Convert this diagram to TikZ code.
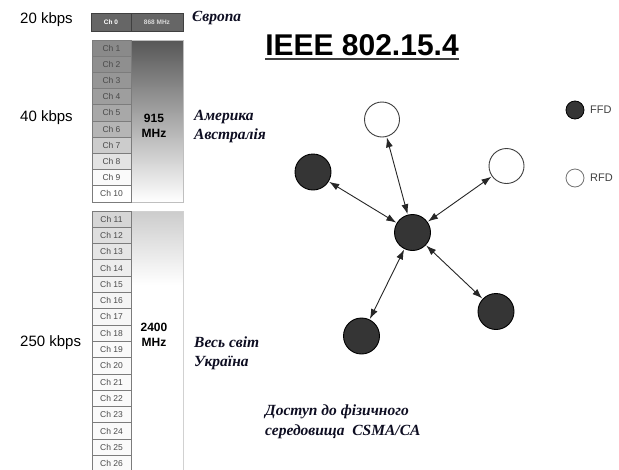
\documentclass[tikz,border=0pt]{standalone}
\usepackage{fontspec}
\setmainfont{Liberation Serif}
\setsansfont{Liberation Sans}
\usetikzlibrary{arrows.meta}
\definecolor{nodedark}{HTML}{353535}
\definecolor{cellline}{HTML}{7C7C7C}
\definecolor{chtext}{HTML}{4A4A4A}
\definecolor{ittext}{HTML}{0E0E22}
\tikzset{
  rate/.style={anchor=west,font=\sffamily\fontsize{15}{17}\selectfont,inner sep=0pt},
  freq/.style={font=\sffamily\bfseries\fontsize{12}{15}\selectfont,align=center,inner sep=0pt},
  region/.style={anchor=west,font=\rmfamily\bfseries\itshape\fontsize{15.5}{19.5}\selectfont,text=ittext,align=left,inner sep=0pt},
  chlab/.style={font=\sffamily\fontsize{8.5}{9}\selectfont,text=chtext,inner sep=0pt},
  cell/.style={draw=cellline,line width=0.9pt},
  ffd/.style={circle,draw=black,line width=0.9pt,fill=nodedark,minimum size=36pt,inner sep=0pt},
  rfd/.style={circle,draw=black!75,line width=0.9pt,fill=white,minimum size=35pt,inner sep=0pt},
  link/.style={draw=black!85,line width=0.9pt,{Latex[length=10pt,width=7pt]}-{Latex[length=10pt,width=7pt]},shorten <=0.5pt,shorten >=0.5pt},
  legtext/.style={anchor=west,font=\sffamily\fontsize{11}{13}\selectfont,text=black!75,inner sep=0pt}
}
\begin{document}
\begin{tikzpicture}[x=1pt,y=-1pt]
\useasboundingbox (0,0) rectangle (619,469);
\clip (0,0) rectangle (619,469);
\fill[white] (0,0) rectangle (619,469);

% Ch 0 box
\fill[black!60] (91,13) rectangle (183,31);
\draw[black!75,line width=0.8pt] (91,13) rectangle (183,31) (131,13) -- (131,31);
\node[font=\sffamily\bfseries\fontsize{6.5}{7}\selectfont,text=white,inner sep=0pt] (ch0) at (111,22) {Ch 0};
\node[font=\sffamily\bfseries\fontsize{6.5}{7}\selectfont,text=white!85!black,inner sep=0pt] (f868) at (157,22) {868 MHz};

% block 1 (Ch 1 - Ch 10)
\shade[top color=black!66,middle color=black!35,bottom color=white] (131,40) rectangle (183,202);
\draw[black!25,line width=0.8pt] (131,40) rectangle (183,202);
\foreach \i/\p in {1/46,2/44,3/41,4/38,5/34,6/29,7/20,8/11,9/2,10/0}{
  \pgfmathsetmacro{\yt}{40+(\i-1)*16.2}
  \pgfmathsetmacro{\yb}{40+\i*16.2}
  \fill[black!\p] (92,\yt) rectangle (131,\yb);
  \draw[cell] (92,\yt) rectangle (131,\yb);
  \node[chlab] (c\i) at (111.5,{(\yt+\yb)/2}) {Ch \i};
}

% block 2 (Ch 11 - Ch 26)
\shade[top color=black!20,bottom color=white] (131,211) rectangle (183,285);
\draw[black!18,line width=0.8pt] (131,211) rectangle (183,480);
\foreach \i/\p in {11/16,12/13,13/10,14/7,15/5,16/4,17/3,18/3,19/2,20/2,21/2,22/2,23/2,24/2,25/2,26/2}{
  \pgfmathsetmacro{\yt}{211+(\i-11)*16.3}
  \pgfmathsetmacro{\yb}{211+(\i-10)*16.3}
  \fill[black!\p] (92,\yt) rectangle (131,\yb);
  \draw[cell] (92,\yt) rectangle (131,\yb);
  \node[chlab] (c\i) at (111.5,{(\yt+\yb)/2}) {Ch \i};
}

% frequencies and rates
\node[freq] (f915) at (154,125.5) {915\\MHz};
\node[freq] (f2400) at (154,334.5) {2400\\MHz};
\node[rate] (r20) at (20,20) {20 kbps};
\node[rate] (r40) at (20,118) {40 kbps};
\node[rate] (r250) at (20,343) {250 kbps};

% regions
\node[region] (eu) at (192,18) {Європа};
\node[region] (am) at (194,126.5) {Америка\\Австралія};
\node[region] (ww) at (194,353.5) {Весь світ\\Україна};
\node[region] (csma) at (265,422) {Доступ до фізичного\\середовища\ \ CSMA/CA};

% title
\node[font=\sffamily\bfseries\fontsize{30}{34}\selectfont,inner sep=0pt] (title) at (362,45) {IEEE 802.15.4};
\draw[black!75,line width=2.4pt] (title.south west |- 0,59) coordinate (ul1) -- (title.south east |- 0,59) coordinate (ul2);

% network
\node[ffd] (n0) at (412.5,232.5) {};
\node[rfd] (n1) at (382,119.5) {};
\node[ffd] (n2) at (313,172) {};
\node[rfd] (n3) at (506.5,166) {};
\node[ffd] (n4) at (496,311.5) {};
\node[ffd] (n5) at (361.5,336) {};
\foreach \t in {n1,n2,n3,n4,n5}{
  \draw[link] (n0) -- (\t);
}

% legend
\node[circle,draw=black,fill=nodedark,line width=0.8pt,minimum size=18pt,inner sep=0pt] (lf) at (575,110) {};
\node[legtext] (lft) at (590,110) {FFD};
\node[circle,draw=black!55,fill=white,line width=0.8pt,minimum size=18pt,inner sep=0pt] (lr) at (575,178) {};
\node[legtext] (lrt) at (590,178) {RFD};
\end{tikzpicture}
\end{document}
